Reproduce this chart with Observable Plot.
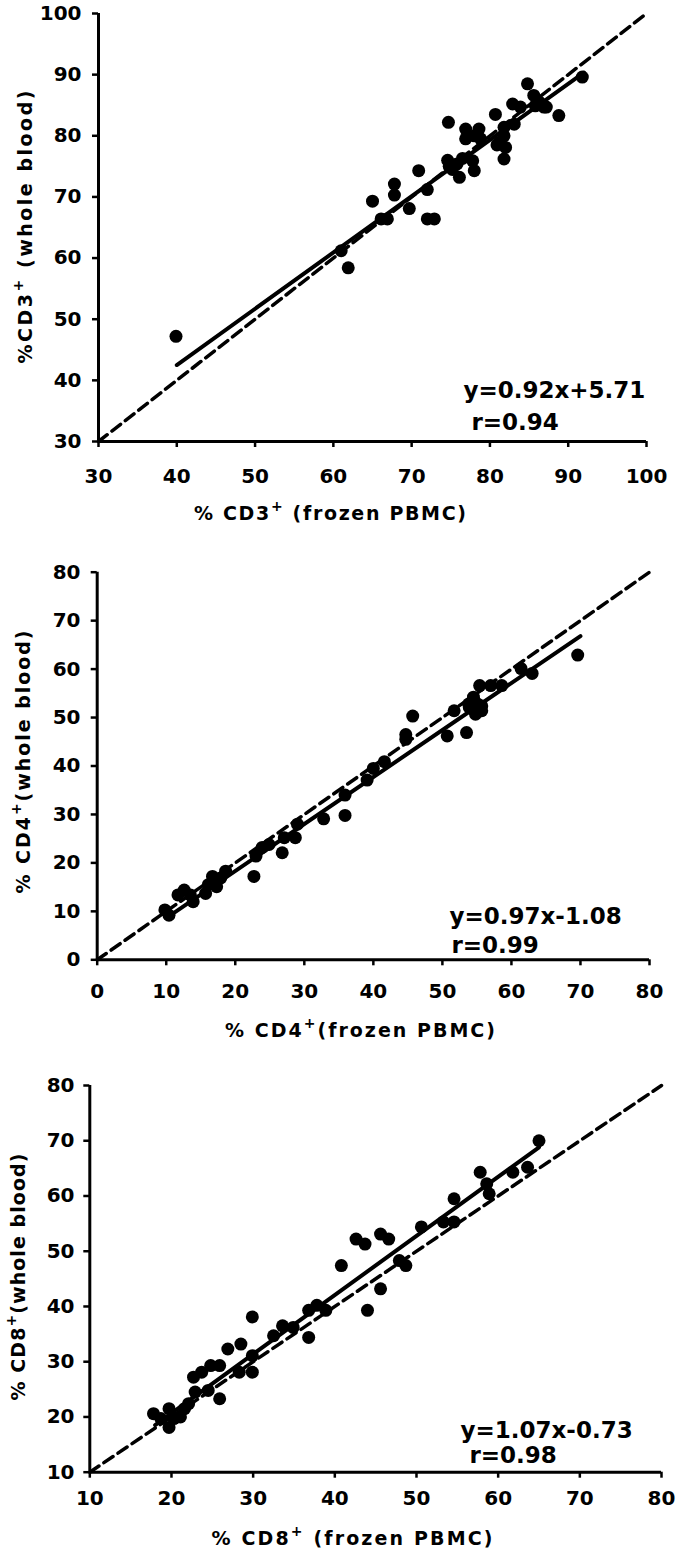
<!DOCTYPE html>
<html><head><meta charset="utf-8">
<script src="https://cdn.jsdelivr.net/npm/d3@7"></script>
<script src="https://cdn.jsdelivr.net/npm/@observablehq/plot@0.6"></script>
<style>
html,body{margin:0;padding:0;background:#fff;}
#chart svg{display:block;}
</style></head><body><div id="chart"></div>
<script>
// ---- Panel 1: CD3 ----
const cd3Frozen = [39.9,61.0,61.9,65.0,66.1,66.9,67.8,67.8,69.7,70.9,72.0,72.0,72.9,74.7,74.6,74.8,75.2,75.8,76.1,76.5,76.9,76.9,77.8,78.0,78.0,78.6,78.8,80.7,80.9,81.2,82.0,81.8,81.8,81.8,83.1,82.9,83.9,84.8,85.6,85.8,86.9,86.3,87.2,88.8,91.8];
const cd3Whole  = [47.2,61.2,58.4,69.3,66.4,66.4,72.1,70.3,68.1,74.3,71.2,66.4,66.4,82.2,76.0,75.0,74.5,75.4,73.2,76.3,81.1,79.5,75.9,74.3,80.0,81.1,79.5,83.5,78.5,78.9,78.1,76.2,81.4,80.0,81.9,85.2,84.7,88.5,86.6,84.9,84.7,85.5,84.7,83.3,89.6];
const cd3Ticks = [30,40,50,60,70,80,90,100];
const cd3Fit = {slope: 0.92, intercept: 5.71, from: 40, to: 92};
const cd3Eq = ["y=0.92x+5.71"];
const cd3R = ["r=0.94"];

// ---- Panel 2: CD4 ----
const cd4Frozen = [9.8,10.4,11.7,12.6,13.9,13.5,15.7,16.1,16.7,17.3,17.9,18.6,22.7,23.0,23.9,24.9,26.8,27.1,28.7,29.0,32.8,35.9,35.9,39.1,40.0,41.6,44.7,44.7,45.7,50.7,51.7,53.5,53.9,54.5,54.8,55.1,55.4,55.7,57.0,58.6,61.4,63.0,69.6,55.7,53.8];
const cd4Whole  = [10.3,9.2,13.4,14.4,12.0,13.4,13.7,15.5,17.2,15.1,16.9,18.3,17.2,21.4,23.2,23.8,22.1,25.2,25.2,28.0,29.1,29.8,34.0,37.1,39.5,40.9,46.5,45.5,50.3,46.2,51.4,46.9,52.1,54.2,50.7,52.8,56.6,51.4,56.6,56.6,60.1,59.1,62.9,52.4,52.8];
const cd4Ticks = [0,10,20,30,40,50,60,70,80];
const cd4Fit = {slope: 0.97, intercept: -1.08, from: 10, to: 70};
const cd4Eq = ["y=0.97x-1.08"];
const cd4R = ["r=0.99"];

// ---- Panel 3: CD8 ----
const cd8Frozen = [17.8,18.7,19.7,19.7,20.3,21.1,21.6,22.1,22.7,22.9,23.7,24.8,24.5,25.9,25.9,26.9,28.3,28.5,29.9,29.9,29.9,32.5,33.6,34.9,36.8,36.8,37.8,38.9,40.8,42.6,43.7,44.0,45.6,46.6,45.6,47.9,48.7,50.6,53.3,54.6,54.6,57.8,58.6,58.9,61.8,63.6,65.0];
const cd8Whole  = [20.6,19.7,21.5,18.1,19.7,20.0,21.5,22.4,27.2,24.5,28.1,29.3,24.8,29.3,23.3,32.3,28.1,33.2,28.1,31.1,38.1,34.7,36.5,36.2,34.4,39.3,40.2,39.3,47.4,52.2,51.3,39.3,53.1,52.2,43.2,48.3,47.4,54.4,55.3,55.3,59.5,64.3,62.2,60.4,64.3,65.2,70.0];
const cd8Ticks = [10,20,30,40,50,60,70,80];
const cd8Fit = {slope: 1.07, intercept: -0.73, from: 18, to: 65};
const cd8Eq = ["y=1.07x-0.73"];
const cd8R = ["r=0.98"];

const markers = ["CD3", "CD4", "CD8"];

const FONT = "'DejaVu Sans', Verdana, sans-serif";

const panels = [
  {frozen: cd3Frozen, whole: cd3Whole, ticks: cd3Ticks, fit: cd3Fit, eq: cd3Eq, r: cd3R, marker: markers[0],
   L: {height: 530, mt: 13, mb: 89, ml: 98, mr: 34, xpad: 21, ypad: 11,
       eqDx: 365, eqDy: -51, rDx: 373, rDy: -19,
       xt: {x: 330, y: 520, len: 272, sep: " "}, yt: {x: 32, y: 227, len: 273, sep: " ", pctSep: ""}}},
  {frozen: cd4Frozen, whole: cd4Whole, ticks: cd4Ticks, fit: cd4Fit, eq: cd4Eq, r: cd4R, marker: markers[1],
   L: {height: 520, mt: 41.7, mb: 90.7, ml: 96.7, mr: 31, xpad: 17.5, ypad: 10.7,
       eqDx: 352.3, eqDy: -43.3, rDx: 354.3, rDy: -14.3,
       xt: {x: 360, y: 507, len: 270, sep: ""}, yt: {x: 30, y: 232, len: 263, sep: "", pctSep: " "}}},
  {frozen: cd8Frozen, whole: cd8Whole, ticks: cd8Ticks, fit: cd8Fit, eq: cd8Eq, r: cd8R, marker: markers[2],
   L: {height: 503, mt: 35, mb: 81.3, ml: 89.3, mr: 19, xpad: 13, ypad: 9.3,
       eqDx: 370.7, eqDy: -41.7, rDx: 379.7, rDy: -16.7,
       xt: {x: 352, y: 495, len: 281, sep: " "}, yt: {x: 25, y: 227, len: 247, sep: "", pctSep: " "}}}
];

function addTitle(svg, {x, y, rotate, pre, sup, post, len}) {
  const t = d3.select(svg).append("text")
    .attr("transform", `translate(${x},${y}) rotate(${rotate})`)
    .attr("text-anchor", "middle")
    .attr("font-family", FONT)
    .attr("font-size", 19)
    .attr("font-weight", "bold")
    .attr("fill", "#000")
    .attr("textLength", len)
    .attr("lengthAdjust", "spacing");
  t.append("tspan").text(pre);
  t.append("tspan").attr("dy", -9).attr("font-size", 14).text(sup);
  t.append("tspan").attr("dy", 9).text(post);
}

const root = document.getElementById("chart");
for (const p of panels) {
  const L = p.L;
  const lo = p.ticks[0], hi = p.ticks[p.ticks.length - 1];
  const pts = p.frozen.map((x, i) => ({x, y: p.whole[i]}));
  const fitLine = [p.fit.from, p.fit.to].map(x => ({x, y: p.fit.slope * x + p.fit.intercept}));
  const identity = [lo, hi].map(v => ({x: v, y: v}));
  const svg = Plot.plot({
    width: 680, height: L.height,
    marginTop: L.mt, marginBottom: L.mb, marginLeft: L.ml, marginRight: L.mr,
    style: {fontFamily: FONT, fontSize: "20px", fontWeight: "bold", color: "#000", background: "#fff", overflow: "visible"},
    x: {domain: [lo, hi], label: null},
    y: {domain: [lo, hi], label: null},
    marks: [
      Plot.axisX({ticks: p.ticks, tickSize: 6, tickPadding: L.xpad, strokeWidth: 2.5, label: null, fontSize: 20, fontWeight: "bold", tickFormat: d => String(d)}),
      Plot.axisY({ticks: p.ticks, tickSize: 6, tickPadding: L.ypad, strokeWidth: 2.5, label: null, fontSize: 20, fontWeight: "bold", tickFormat: d => String(d)}),
      Plot.ruleX([lo], {strokeWidth: 3, stroke: "#000"}),
      Plot.ruleY([lo], {strokeWidth: 3, stroke: "#000"}),
      Plot.line(identity, {x: "x", y: "y", stroke: "#000", strokeWidth: 3.5, strokeDasharray: "11,6"}),
      Plot.line(fitLine, {x: "x", y: "y", stroke: "#000", strokeWidth: 4}),
      Plot.dot(pts, {x: "x", y: "y", r: 6.5, fill: "#000", stroke: "none"}),
      Plot.text(p.eq, {text: d => d, frameAnchor: "bottom-left", lineAnchor: "middle", textAnchor: "start", dx: L.eqDx, dy: L.eqDy, fontSize: 23, fontWeight: "bold", fill: "#000"}),
      Plot.text(p.r, {text: d => d, frameAnchor: "bottom-left", lineAnchor: "middle", textAnchor: "start", dx: L.rDx, dy: L.rDy, fontSize: 23, fontWeight: "bold", fill: "#000"})
    ]
  });
  addTitle(svg, {x: L.xt.x, y: L.xt.y, rotate: 0, pre: "% " + p.marker, sup: "+", post: L.xt.sep + "(frozen PBMC)", len: L.xt.len});
  addTitle(svg, {x: L.yt.x, y: L.yt.y, rotate: -90, pre: "%" + L.yt.pctSep + p.marker, sup: "+", post: L.yt.sep + "(whole blood)", len: L.yt.len});
  root.appendChild(svg);
}
</script>
</body></html>
